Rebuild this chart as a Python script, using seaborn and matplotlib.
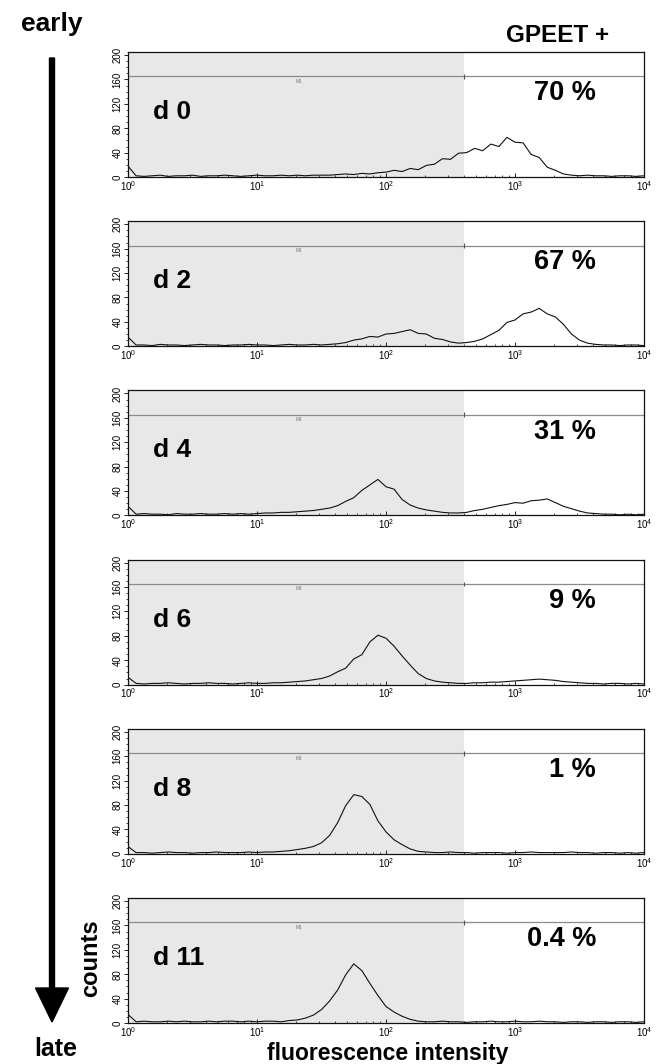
"""
GPEET+ flow cytometry time course: six stacked histogram panels (d 0 .. d 11)
with the M1 gate marker and the percentage of GPEET-positive cells.
"""

import numpy as np
import pandas as pd
import matplotlib.pyplot as plt
import matplotlib.patches as mpatches
import matplotlib.ticker as mticker
import seaborn as sns

# ── Data (channel spacing = 1/16 decade) ─────────────────────────────────────
days      = ["d 0", "d 2", "d 4", "d 6", "d 8", "d 11"]
gpeet_pct = ["70 %", "67 %", "31 %", "9 %", "1 %", "0.4 %"]
gate      = 400        # M1 gate start (fluorescence)
marker_y  = 165        # height of the M1 marker bar (counts)
decades   = np.arange(65) / 16

counts_d0 = [18, 2, 1, 2, 3, 1, 2, 2, 3, 1, 2, 2, 3, 2, 1, 2, 3, 2, 2, 3, 2, 3, 2, 3, 3,
             3, 4, 5, 4, 6, 5, 7, 8, 11, 9, 14, 12, 19, 21, 30, 29, 39, 40, 47, 43,
             54, 50, 65, 57, 56, 37, 32, 16, 11, 5, 3, 2, 3, 2, 2, 1, 2, 2, 1, 2]
counts_d2 = [15, 2, 2, 1, 3, 2, 2, 1, 2, 3, 2, 2, 1, 2, 2, 3, 2, 2, 1, 2, 3, 2, 2, 3, 2,
             3, 4, 6, 10, 12, 16, 15, 20, 21, 24, 27, 21, 20, 13, 11, 7, 5, 6, 8, 12,
             19, 26, 39, 43, 53, 56, 62, 53, 48, 36, 20, 10, 5, 3, 2, 2, 1, 2, 2, 1]
counts_d4 = [15, 2, 3, 2, 2, 1, 3, 2, 2, 3, 2, 2, 3, 2, 3, 2, 3,
             4, 4, 5, 5, 6, 7, 8, 10, 12, 16, 23, 29, 41, 50, 59, 47, 43, 26,
             17, 12, 9, 7, 5, 4, 4, 5, 8, 10, 13, 16, 18, 21, 20, 24, 25, 27, 21, 15,
             11, 7, 4, 3, 2, 2, 1, 2, 1, 2]
counts_d6 = [12, 2, 1, 2, 2, 3, 2, 1, 2, 2, 3, 2, 2, 1, 2, 3, 2, 2, 3,
             3, 4, 5, 6, 8, 10, 14, 21, 27, 42, 49, 70, 81, 76, 63, 47,
             32, 18, 10, 6, 4, 3, 2, 2, 3, 3, 4, 4, 5, 6, 7, 8, 9, 8, 7, 5,
             4, 3, 2, 2, 1, 2, 2, 1, 2, 1]
counts_d8 = [12, 2, 2, 1, 2, 3, 2, 2, 1, 2, 2, 3, 2, 2, 2, 3, 2, 3,
             3, 4, 5, 7, 9, 12, 18, 30, 51, 79, 97, 94, 81, 54, 36, 23, 15,
             8, 4, 3, 2, 2, 3, 2, 2, 1, 2, 2, 2, 1, 2, 2, 3, 2, 2, 2, 2,
             3, 2, 2, 1, 2, 2, 1, 2, 1, 2]
counts_d11 = [14, 2, 3, 2, 2, 3, 2, 3, 2, 2, 3, 2, 3, 3, 2, 3, 2, 3, 3, 2,
              4, 5, 8, 13, 22, 36, 54, 79, 97, 86, 65, 45, 27, 18, 11,
              6, 3, 2, 2, 3, 2, 2, 1, 2, 2, 3, 2, 2, 3, 2, 2, 3, 2, 2, 1,
              2, 2, 1, 2, 2, 1, 2, 2, 1, 2]
panel_counts = [counts_d0, counts_d2, counts_d4, counts_d6, counts_d8, counts_d11]

# ── Style ─────────────────────────────────────────────────────────────────────
sns.set_theme(style="ticks")
plt.rcParams["font.family"] = ["Liberation Sans", "DejaVu Sans"]
plt.rcParams.update({"text.color": "black", "axes.labelcolor": "black",
                     "xtick.color": "black", "ytick.color": "black"})
SHADE   = "#e8e8e8"
LINE_C  = "#111111"
MARK_C  = "#8a8a8a"

W, H = 666, 1064
fig = plt.figure(figsize=(W / 100, H / 100), dpi=100)

AX_L, AX_W = 128, 516          # pixels
AX_TOP0, AX_H, STEP = 52, 125, 169.2

axes = []
for i, (day, pct, vals) in enumerate(zip(days, gpeet_pct, panel_counts)):
    top = AX_TOP0 + STEP * i
    ax = fig.add_axes([AX_L / W, 1 - (top + AX_H) / H, AX_W / W, AX_H / H])
    ax.set_xscale("log")

    df = pd.DataFrame({"fluorescence": 10 ** decades, "counts": vals})
    ax.axvspan(1, gate, color=SHADE, lw=0, zorder=0)
    sns.lineplot(data=df, x="fluorescence", y="counts", ax=ax,
                 color=LINE_C, lw=0.8, zorder=3)

    # M1 marker bar
    ax.hlines(marker_y, 1, 1e4, color=MARK_C, lw=0.9, zorder=2)
    ax.vlines([gate, 1e4], marker_y - 4, marker_y + 4, color="#555555", lw=0.8, zorder=2)
    ax.text(21, marker_y - 4, "M1", fontsize=3.5, color="#777777",
            ha="center", va="top")

    ax.text(0.048, 0.52, day, transform=ax.transAxes, fontsize=19,
            fontweight="bold", ha="left", va="center")
    ax.text(0.907, 0.67, pct, transform=ax.transAxes, fontsize=19.5,
            fontweight="bold", ha="right", va="center")

    ax.set_xlim(1, 1e4)
    ax.set_ylim(0, 205)
    ax.set_yticks([0, 40, 80, 120, 160, 200])
    ax.yaxis.set_minor_locator(mticker.MultipleLocator(10))
    ax.xaxis.set_major_locator(mticker.LogLocator(base=10, numticks=10))
    ax.xaxis.set_minor_locator(mticker.LogLocator(base=10, subs=np.arange(2, 10), numticks=10))
    ax.tick_params(axis="y", which="major", length=3, width=0.6, labelsize=7,
                   pad=1, labelrotation=90)
    ax.tick_params(axis="y", which="minor", length=1.5, width=0.5)
    ax.tick_params(axis="x", which="major", direction="in", length=3, width=0.6,
                   labelsize=7, pad=1.5)
    ax.tick_params(axis="x", which="minor", direction="in", length=1.5, width=0.5)
    for lab in ax.get_yticklabels():
        lab.set_va("center")
    for sp in ax.spines.values():
        sp.set_linewidth(0.9)
        sp.set_color("#111111")
    ax.set_xlabel("")
    ax.set_ylabel("")
    axes.append(ax)

# axis titles only on the bottom panel
last = axes[-1]
last.set_xlabel("fluorescence intensity", fontsize=16.5, fontweight="bold")
last.xaxis.set_label_coords(0.504, -0.155)
last.set_ylabel("counts", fontsize=17, fontweight="bold")
last.yaxis.set_label_coords(-0.05, 0.52)

# time arrow and side labels
fig.text(52 / W, 1 - 24 / H, "early", fontsize=19, fontweight="bold",
         ha="center", va="center")
fig.text(56 / W, 1 - 1049 / H, "late", fontsize=18, fontweight="bold",
         ha="center", va="center")
fig.text(558 / W, 1 - 36 / H, "GPEET +", fontsize=17.5, fontweight="bold",
         ha="center", va="center")
arrow = mpatches.FancyArrow(52 / W, 1 - 58 / H, 0, -(1022 - 58) / H,
                            width=5 / W, head_width=33 / W, head_length=34 / H,
                            length_includes_head=True, color="black",
                            transform=fig.transFigure)
fig.add_artist(arrow)

fig.savefig("out.png", dpi=100)
